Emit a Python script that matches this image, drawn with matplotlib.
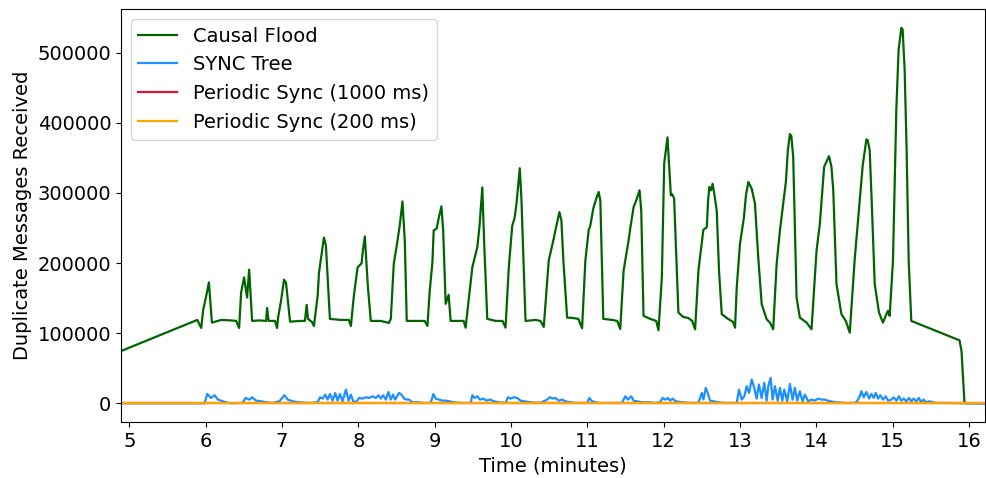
import numpy as np
import matplotlib
matplotlib.use("Agg")
import matplotlib.pyplot as plt

# Causal Flood: duplicate messages over time (minutes)
flood_t = [4.89, 5.889, 5.941, 5.967, 6.007, 6.042, 6.081, 6.203, 6.333, 6.399,
           6.438, 6.464, 6.503, 6.542, 6.569, 6.608, 6.699, 6.791, 6.804, 6.824,
           6.908, 6.935, 6.948, 6.987, 7.026, 7.052, 7.105, 7.248, 7.30, 7.323,
           7.34, 7.392, 7.418, 7.467, 7.484, 7.51, 7.529, 7.549, 7.575, 7.627,
           7.771, 7.876, 7.902, 7.941, 7.99, 8.042, 8.059, 8.085, 8.124, 8.163,
           8.294, 8.399, 8.425, 8.464, 8.503, 8.542, 8.578, 8.608, 8.634, 8.752,
           8.869, 8.905, 8.935, 8.97, 8.987, 9.026, 9.052, 9.088, 9.111, 9.144,
           9.183, 9.209, 9.34, 9.379, 9.405, 9.444, 9.493, 9.558, 9.588, 9.624,
           9.647, 9.689, 9.797, 9.889, 9.928, 9.971, 10.016, 10.046, 10.072, 10.115,
           10.137, 10.19, 10.32, 10.386, 10.429, 10.464, 10.494, 10.559, 10.595, 10.634,
           10.66, 10.686, 10.735, 10.804, 10.882, 10.931, 10.974, 11.017, 11.039, 11.078,
           11.118, 11.148, 11.17, 11.209, 11.327, 11.392, 11.431, 11.475, 11.54, 11.562,
           11.606, 11.641, 11.684, 11.706, 11.736, 11.824, 11.902, 11.932, 11.976, 12.007,
           12.05, 12.094, 12.111, 12.137, 12.193, 12.255, 12.32, 12.373, 12.412, 12.455,
           12.52, 12.565, 12.582, 12.599, 12.621, 12.641, 12.66, 12.695, 12.725, 12.761,
           12.843, 12.908, 12.935, 12.957, 13.0, 13.052, 13.078, 13.109, 13.131, 13.153,
           13.196, 13.239, 13.284, 13.349, 13.392, 13.435, 13.48, 13.523, 13.566, 13.601,
           13.627, 13.654, 13.673, 13.697, 13.741, 13.784, 13.872, 13.937, 14.003, 14.046,
           14.102, 14.133, 14.167, 14.198, 14.222, 14.264, 14.329, 14.386, 14.438, 14.503,
           14.569, 14.608, 14.656, 14.673, 14.699, 14.725, 14.765, 14.821, 14.873, 14.908,
           14.938, 14.961, 15.004, 15.048, 15.078, 15.114, 15.131, 15.157, 15.183, 15.21,
           15.244, 15.876, 15.902, 15.941, 16.21]
flood_k = [74.5, 118.9, 107.5, 133.3, 153.3, 172.4, 115.1, 118.9, 118.2, 117.5,
           107.5, 158.1, 179.6, 150.9, 190.6, 117.5, 118.2, 117.5, 136.1, 117.5,
           117.5, 107.5, 122.2, 146.2, 176.3, 172.0, 116.5, 117.5, 117.5, 140.4,
           120.4, 116.0, 110.3, 153.3, 186.3, 206.4, 222.1, 236.4, 225.0, 120.4,
           118.9, 118.9, 110.3, 153.3, 193.9, 199.6, 217.8, 237.9, 167.7, 117.5,
           117.5, 114.6, 120.4, 199.2, 225.0, 253.6, 288.0, 232.0, 117.5, 117.5,
           117.5, 110.3, 160.5, 201.0, 246.5, 249.3, 263.7, 280.9, 246.5, 141.9,
           154.8, 117.5, 117.5, 117.5, 107.9, 146.2, 193.9, 222.5, 253.6, 308.1,
           232.1, 120.4, 117.5, 117.5, 107.9, 193.9, 253.6, 263.7, 285.2, 335.3,
           289.5, 117.5, 118.9, 117.5, 108.9, 160.5, 203.5, 234.6, 253.6, 272.7,
           260.8, 203.5, 122.2, 121.8, 120.4, 107.0, 203.5, 246.5, 253.6, 278.0,
           292.3, 301.4, 289.5, 120.4, 118.9, 117.5, 106.0, 189.2, 232.1, 249.3,
           279.9, 289.5, 303.8, 275.1, 124.7, 120.4, 117.5, 104.2, 179.6, 342.5,
           379.3, 296.6, 298.1, 292.3, 129.4, 123.2, 121.8, 117.5, 105.6, 189.2,
           247.5, 251.2, 289.5, 308.5, 303.8, 313.1, 300.9, 275.1, 189.2, 127.1,
           120.4, 116.1, 107.9, 165.2, 227.8, 265.5, 296.6, 315.7, 311.0, 306.2,
           284.7, 208.2, 141.4, 119.9, 115.1, 105.6, 198.8, 246.5, 284.7, 315.7,
           361.1, 384.0, 381.2, 351.5, 150.9, 122.2, 115.1, 105.6, 217.8, 256.1,
           337.2, 344.4, 352.5, 337.2, 303.8, 170.1, 127.1, 117.5, 100.7, 205.9,
           289.5, 339.6, 376.4, 375.4, 361.1, 289.5, 170.1, 129.4, 115.1, 124.7,
           131.8, 124.7, 203.5, 418.4, 504.4, 535.5, 533.1, 475.8, 361.1, 203.5,
           117.5, 89.8, 74.5, 0.4, 0.0]

# SYNC Tree
sync_t = [4.89, 5.985, 6.02, 6.07, 6.116, 6.16, 6.2, 6.268, 6.33, 6.486,
          6.521, 6.573, 6.608, 6.66, 6.726, 6.791, 6.878, 6.965, 7.031, 7.074,
          7.14, 7.227, 7.357, 7.466, 7.497, 7.532, 7.567, 7.597, 7.628, 7.663,
          7.697, 7.728, 7.758, 7.793, 7.837, 7.872, 7.902, 7.933, 7.967, 8.011,
          8.055, 8.098, 8.142, 8.185, 8.229, 8.264, 8.294, 8.325, 8.36, 8.394,
          8.425, 8.455, 8.482, 8.534, 8.564, 8.599, 8.634, 8.665, 8.708, 8.774,
          8.861, 8.948, 8.983, 9.013, 9.057, 9.1, 9.144, 9.188, 9.253, 9.34,
          9.471, 9.493, 9.523, 9.558, 9.593, 9.636, 9.68, 9.723, 9.776, 9.841,
          9.928, 9.959, 9.994, 10.037, 10.081, 10.124, 10.168, 10.255, 10.386, 10.473,
          10.508, 10.551, 10.582, 10.625, 10.669, 10.713, 10.778, 10.865, 10.996, 11.026,
          11.061, 11.148, 11.323, 11.453, 11.497, 11.532, 11.575, 11.606, 11.649, 11.715,
          11.802, 11.889, 11.954, 11.985, 12.02, 12.055, 12.085, 12.116, 12.159, 12.238,
          12.368, 12.455, 12.477, 12.499, 12.521, 12.551, 12.577, 12.608, 12.652, 12.717,
          12.804, 12.957, 12.987, 13.022, 13.057, 13.087, 13.118, 13.153, 13.187, 13.218,
          13.248, 13.283, 13.318, 13.349, 13.371, 13.401, 13.427, 13.458, 13.493, 13.523,
          13.554, 13.58, 13.619, 13.654, 13.689, 13.719, 13.75, 13.784, 13.819, 13.85,
          13.893, 13.937, 13.98, 14.024, 14.068, 14.111, 14.177, 14.264, 14.394, 14.503,
          14.534, 14.569, 14.591, 14.621, 14.656, 14.691, 14.721, 14.752, 14.778, 14.808,
          14.839, 14.874, 14.909, 14.939, 14.983, 15.013, 15.048, 15.083, 15.113, 15.144,
          15.179, 15.214, 15.244, 15.275, 15.309, 15.344, 15.375, 15.405, 15.44, 15.484,
          15.527, 15.571, 15.702, 15.92, 16.21]
sync_k = [0.0, 0.0, 13.4, 7.6, 11.5, 5.3, 3.8, 1.4, 0.0, 0.5,
          7.6, 5.3, 8.6, 3.8, 2.9, 1.4, 0.5, 2.9, 11.5, 5.3,
          2.9, 1.4, 0.5, 1.4, 8.6, 6.7, 12.4, 5.3, 13.4, 3.8,
          14.8, 3.8, 13.4, 2.9, 19.6, 3.8, 12.4, 2.9, 1.4, 7.6,
          6.7, 8.6, 7.6, 10.0, 7.6, 11.5, 6.7, 11.5, 5.3, 16.2,
          5.3, 12.4, 5.3, 14.8, 12.4, 6.7, 5.3, 5.3, 1.4, 1.4,
          0.5, 0.5, 13.4, 6.7, 5.3, 3.8, 3.8, 2.9, 1.4, 0.5,
          0.5, 11.5, 7.6, 10.0, 5.3, 6.7, 3.8, 5.3, 2.9, 1.4,
          0.5, 8.6, 6.7, 8.6, 7.6, 3.8, 2.9, 1.4, 0.5, 5.3,
          8.6, 6.7, 7.6, 3.8, 5.3, 2.9, 1.4, 0.5, 0.5, 7.6,
          2.9, 0.5, 0.5, 0.5, 10.0, 5.3, 10.0, 3.8, 2.9, 1.4,
          1.4, 0.5, 1.4, 7.6, 5.3, 7.6, 3.8, 6.7, 2.9, 1.4,
          0.5, 0.5, 7.6, 14.8, 5.3, 22.0, 14.8, 3.8, 2.9, 1.4,
          0.5, 0.5, 19.6, 5.3, 10.0, 24.4, 14.8, 33.9, 22.0, 6.7,
          26.8, 7.6, 29.1, 3.8, 24.4, 36.3, 5.3, 24.4, 3.8, 22.0,
          3.8, 19.6, 2.9, 27.7, 5.3, 22.0, 3.8, 17.2, 2.9, 12.4,
          2.9, 5.3, 3.8, 6.7, 5.3, 5.3, 2.9, 1.4, 0.5, 0.5,
          2.9, 10.0, 17.2, 8.6, 16.2, 6.7, 13.4, 7.6, 14.8, 6.7,
          11.5, 5.3, 10.0, 3.8, 5.3, 8.6, 3.8, 10.0, 3.8, 6.7,
          2.9, 7.6, 2.9, 6.7, 2.9, 7.6, 1.4, 5.3, 1.4, 2.9,
          1.4, 0.5, 0.5, 0.0, 0.0]

# Periodic Sync variants stay at zero
periodic_t = [4.89, 16.21]
periodic_1000 = [0, 0]
periodic_200 = [0, 0]

plt.rcParams['font.size'] = 14

fig, ax = plt.subplots(figsize=(9.86, 4.78), dpi=100)
ax.plot(flood_t, np.array(flood_k) * 1000, color='darkgreen', lw=1.6, label='Causal Flood')
ax.plot(sync_t, np.array(sync_k) * 1000, color='dodgerblue', lw=1.6, label='SYNC Tree')
ax.plot(periodic_t, periodic_1000, color='crimson', lw=1.6, label='Periodic Sync (1000 ms)')
ax.plot(periodic_t, periodic_200, color='orange', lw=1.6, label='Periodic Sync (200 ms)')

ax.set_xlim(4.89, 16.21)
ax.set_xticks(range(5, 17))
ax.set_xlabel('Time (minutes)')
ax.set_ylabel('Duplicate Messages Received')
ax.legend(loc='upper left')

fig.subplots_adjust(left=0.1227, right=0.999, top=0.981, bottom=0.117)
fig.savefig('out.png', dpi=100)
